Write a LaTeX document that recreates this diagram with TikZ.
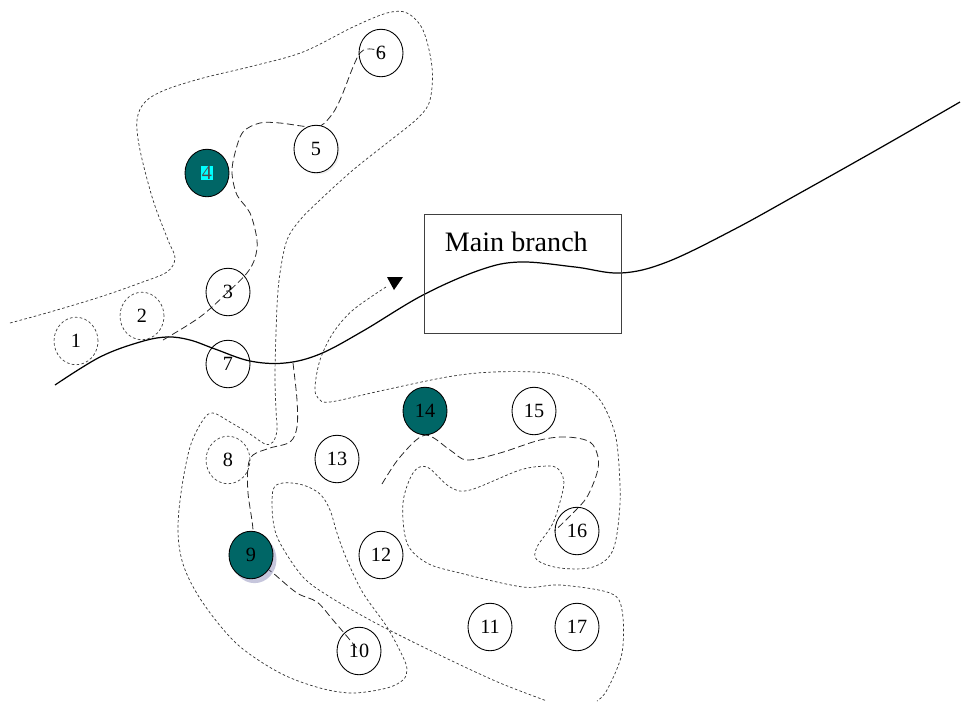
\documentclass[tikz,border=0pt]{standalone}
\usepackage{fontspec}
\setmainfont{Liberation Serif}
\usetikzlibrary{shapes.geometric,shadows}
\definecolor{hubfill}{RGB}{0,102,102}
\definecolor{hilite}{RGB}{0,255,255}
\pgfdeclarelayer{background}
\pgfsetlayers{background,main}
\tikzset{site/.style = {draw, ellipse, line width=0.5pt, minimum width=0.88cm, minimum height=0.95cm, inner sep=0pt, font=\fontsize{11.5}{13}\selectfont}}
\tikzset{hub/.style = {site, fill=hubfill}}
\tikzset{ghost/.style = {site, draw=black!75, line width=0.4pt, dash pattern=on 1.5pt off 1.3pt}}
\tikzset{contour/.style = {draw=black!80, line width=0.4pt, dash pattern=on 1.5pt off 1.3pt}}
\tikzset{branch/.style = {draw=black!85, line width=0.45pt, dash pattern=on 4pt off 2pt}}
\tikzset{trunk/.style = {draw, line width=0.7pt}}

\begin{document}
\begin{tikzpicture}[x=0.02cm, y=-0.02cm]
  \useasboundingbox (0,0) rectangle (961,701);

  \node [ghost] (s1) at (76,341) {1};
  \node [ghost] (s2) at (142,316) {2};
  \node [site] (s3) at (228,292) {3};
  \node [hub] (s4) at (207,173) {\fboxsep=0.4pt\colorbox{hilite}{\textcolor{black!70}{4}}};
  \node [site, fill=white, drop shadow={opacity=0.12, shadow xshift=1pt, shadow yshift=-1pt}] (s5) at (316,149) {5};
  \node [site] (s6) at (381,53) {6};
  \node [site] (s7) at (228,364) {7};
  \node [ghost] (s8) at (228,460) {8};
  \node [hub, drop shadow={opacity=0.45, fill=black!60!blue!50, shadow xshift=2pt, shadow yshift=-2.5pt}] (s9) at (251,555) {9};
  \node [site] (s10) at (359,651) {10};
  \node [site] (s11) at (490,627) {11};
  \node [site] (s12) at (381,555) {12};
  \node [site] (s13) at (337,459) {13};
  \node [hub] (s14) at (425,411) {14};
  \node [site] (s15) at (534,411) {15};
  \node [site] (s16) at (577,531) {16};
  \node [site] (s17) at (577,627) {17};

  \node [draw=black!75, line width=0.5pt, minimum width=3.94cm, minimum height=2.38cm] (mb) at (522.5,273.5) {};
  \node [anchor=north west, inner sep=0pt, font=\fontsize{16}{19}\selectfont] (mblabel) at ([xshift=0.42cm, yshift=-0.36cm]mb.north west) {Main branch};

  \coordinate (tip) at (394,290);
  \fill (tip) -- ++(-7,-13) -- ++(16,0) -- cycle;

  \begin{pgfonlayer}{background}
    % main branch
    \path [trunk] plot [smooth, tension=0.6] coordinates {(55,385) (100,357) (140,342) (167,337) (190,340) (215,349) (250,361) (285,363) (320,354) (363,331) (423,295) (480,270) (520,262) (575,267) (621,273) (667,262) (733,230) (800,193) (880,148) (960,102)};

    % side branches
    \path [branch] plot [smooth, tension=0.55] coordinates {(163,340) (200,317) (s3) (247,273) (255,258) (257,240) (250,213) (237,195) (232,173) (235,153) (243,132) (260,123) (280,123) (316,127) (330,117) (340,100) (353,67) (360,53) (367,49) (377,50) (s6)};
    \path [branch] plot [smooth, tension=0.55] coordinates {(293,363) (297,400) (297,427) (290,442) (270,448) (253,455) (248,467) (248,493) (253,530) (s9) (273,573) (297,593) (317,602) (333,620) (350,640) (s10)};
    \path [branch] plot [smooth, tension=0.55] coordinates {(382,484) (400,457) (s14.south) (450,450) (467,460) (500,453) (540,440) (567,437) (590,442) (598,457) (597,473) (587,497) (573,513) (s16.west)};

    % contours
    \path [contour] plot [smooth, tension=0.55] coordinates {(10,323) (50,312) (100,297) (140,283) (167,272) (175,258) (168,240) (153,200) (140,150) (137,120) (145,102) (165,90) (203,78) (253,66) (303,52) (353,27) (387,13) (407,13) (423,30) (432,67) (430,100) (418,118) (387,143) (353,170) (320,200) (300,220) (287,240) (280,273) (277,307) (275,373) (276,410) (277,430) (273,442) (265,444) (250,434) (230,422) (213,413) (203,420) (190,447) (181,493) (178,533) (184,567) (203,603) (237,644) (280,673) (320,688) (353,693) (387,688) (403,680) (407,670) (403,657) (387,627) (363,593) (347,560) (337,533) (330,510) (320,494) (303,485) (283,483) (273,490) (273,520) (280,543) (303,577) (330,597) (370,620) (403,637) (450,660) (500,683) (547,701)};
    \path [contour] plot [smooth, tension=0.55] coordinates {(386,287) (353,310) (333,333) (320,360) (315,387) (318,398) (330,402) (380,391) (447,377) (493,372) (547,373) (580,383) (600,400) (613,427) (618,453) (620,503) (613,550) (593,567) (560,568) (537,560) (537,547) (553,523) (563,490) (563,477) (557,468) (547,466) (520,470) (470,490) (450,487) (427,467) (413,473) (403,503) (407,543) (427,563) (460,573) (523,587) (560,585) (610,593) (622,610) (622,653) (607,690) (597,701)};
  \end{pgfonlayer}
\end{tikzpicture}
\end{document}
